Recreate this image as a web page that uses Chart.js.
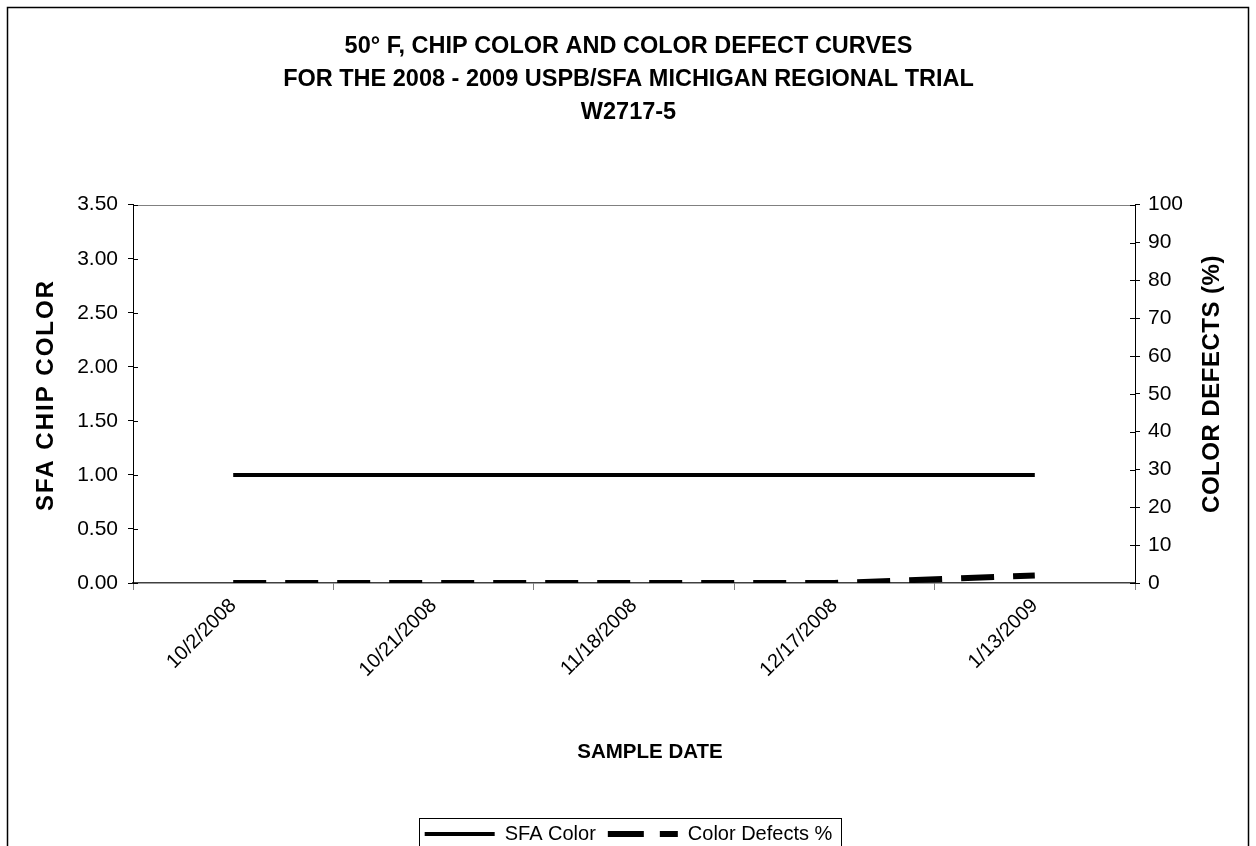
<!DOCTYPE html>
<html>
<head>
<meta charset="utf-8">
<script src="https://cdn.jsdelivr.net/npm/chart.js@4/dist/chart.umd.min.js"></script>
<style>
  html, body { margin: 0; padding: 0; background: #fff; }
  #grafico { display: block; }
</style>
</head>
<body>
<canvas id="grafico" width="1256" height="846"></canvas>
<script>
// --- DADOS ---
const categorias = ['10/2/2008', '10/21/2008', '11/18/2008', '12/17/2008', '1/13/2009'];
const sfaColor = [1.0, 1.0, 1.0, 1.0, 1.0];
const colorDefects = [0, 0, 0, 0, 2];
const ticksEsquerda = [0, 0.5, 1, 1.5, 2, 2.5, 3, 3.5];
const ticksDireita = [0, 10, 20, 30, 40, 50, 60, 70, 80, 90, 100];
const titulo = [
    '50° F, CHIP COLOR AND COLOR DEFECT CURVES',
    'FOR THE 2008 - 2009 USPB/SFA MICHIGAN REGIONAL TRIAL',
    'W2717-5'
];
const tituloX = 'SAMPLE DATE';
const tituloY = 'SFA CHIP COLOR';
const tituloY2 = 'COLOR DEFECTS (%)';

const FONTE = "'Liberation Sans', Arial, sans-serif";

// moldura externa, linha superior, marcas internas, títulos de eixo e caixa da legenda
const molduraPlugin = {
    id: 'moldura',
    beforeDraw(chart) {
        const ctx = chart.ctx;
        ctx.save();
        ctx.fillStyle = '#fff';
        ctx.fillRect(0, 0, chart.width, chart.height);
        ctx.strokeStyle = '#000';
        ctx.lineWidth = 1.5;
        ctx.strokeRect(7.5, 7.5, chart.width - 15, chart.height + 20);
        ctx.restore();
    },
    afterDraw(chart) {
        const ctx = chart.ctx;
        const area = chart.chartArea;
        ctx.save();
        // borda superior cinza
        ctx.strokeStyle = '#808080';
        ctx.lineWidth = 1;
        ctx.beginPath();
        ctx.moveTo(area.left, Math.round(area.top) + 0.5);
        ctx.lineTo(area.right, Math.round(area.top) + 0.5);
        ctx.stroke();
        // marcas cruzando os eixos y (parte interna)
        ctx.strokeStyle = '#000';
        ['y', 'y2'].forEach(id => {
            const scale = chart.scales[id];
            const x = id === 'y' ? area.left : area.right;
            const dir = id === 'y' ? 1 : -1;
            scale.ticks.forEach(t => {
                const py = Math.round(scale.getPixelForValue(t.value)) + 0.5;
                ctx.beginPath();
                ctx.moveTo(x, py);
                ctx.lineTo(x + dir * 5, py);
                ctx.stroke();
            });
        });
        // títulos dos eixos (direito lido de baixo para cima, como no Excel)
        ctx.fillStyle = '#000';
        ctx.textAlign = 'center';
        ctx.textBaseline = 'middle';
        ctx.font = `bold 20.5px ${FONTE}`;
        ctx.fillText(tituloX, 650, 752);
        ctx.font = `bold 24px ${FONTE}`;
        ctx.save();
        ctx.translate(46, 396);
        ctx.rotate(-Math.PI / 2);
        ctx.letterSpacing = '2px';
        ctx.fillText(tituloY, 1, 0);
        ctx.restore();
        ctx.save();
        ctx.translate(1212, 384);
        ctx.rotate(-Math.PI / 2);
        ctx.letterSpacing = '0.5px';
        ctx.fillText(tituloY2, 0, 0);
        ctx.restore();
        // caixa da legenda
        const legend = chart.legend;
        if (legend && legend.legendHitBoxes && legend.legendHitBoxes.length) {
            const boxes = legend.legendHitBoxes;
            const esq = Math.min(...boxes.map(b => b.left)) - 6;
            const dir = Math.max(...boxes.map(b => b.left + b.width)) + 8;
            ctx.strokeStyle = '#000';
            ctx.lineWidth = 1;
            ctx.strokeRect(Math.round(esq) + 0.5, 818.5, Math.round(dir - esq), 60);
        }
        ctx.restore();
    }
};

const ctx = document.getElementById('grafico').getContext('2d');
new Chart(ctx, {
    type: 'line',
    data: {
        labels: categorias,
        datasets: [{
            label: 'SFA Color',
            data: sfaColor,
            yAxisID: 'y',
            borderColor: '#000',
            backgroundColor: '#000',
            borderWidth: 4,
            pointRadius: 0,
            tension: 0
        }, {
            label: 'Color Defects %',
            data: colorDefects,
            yAxisID: 'y2',
            borderColor: '#000',
            backgroundColor: '#000',
            borderWidth: 6,
            borderDash: [33, 19],
            borderCapStyle: 'butt',
            pointRadius: 0,
            tension: 0
        }]
    },
    options: {
        responsive: false,
        animation: false,
        devicePixelRatio: 1,
        layout: { padding: { top: 20, left: 29, right: 28, bottom: -8 } },
        plugins: {
            title: {
                display: true,
                text: titulo,
                color: '#000',
                font: { family: FONTE, size: 23.5, weight: 'bold', lineHeight: 1.4 },
                padding: { top: 10, bottom: 76 }
            },
            legend: {
                position: 'bottom',
                labels: {
                    color: '#000',
                    font: { family: FONTE, size: 20 },
                    boxWidth: 70,
                    boxHeight: 0,
                    padding: 12
                }
            },
            tooltip: { enabled: false }
        },
        scales: {
            x: {
                offset: true,
                grid: { display: true, drawOnChartArea: false, offset: true, tickLength: 7, color: '#808080' },
                border: { color: '#404040', width: 1.5 },
                ticks: {
                    color: '#000',
                    font: { family: FONTE, size: 20 },
                    minRotation: 45,
                    maxRotation: 45,
                    padding: 4
                },
                title: { display: false },
                afterFit(scale) { scale.height = 229; }
            },
            y: {
                position: 'left',
                min: 0,
                max: 3.5,
                afterBuildTicks(scale) { scale.ticks = ticksEsquerda.map(v => ({ value: v })); },
                grid: { display: true, drawOnChartArea: false, tickLength: 5, color: '#000' },
                border: { color: '#000', width: 1 },
                ticks: {
                    color: '#000',
                    font: { family: FONTE, size: 21 },
                    padding: 10,
                    callback: v => Number(v).toFixed(2)
                },
                title: { display: false },
                afterFit(scale) { scale.width = 104; }
            },
            y2: {
                position: 'right',
                min: 0,
                max: 100,
                afterBuildTicks(scale) { scale.ticks = ticksDireita.map(v => ({ value: v })); },
                grid: { display: true, drawOnChartArea: false, tickLength: 5, color: '#000' },
                border: { color: '#000', width: 1 },
                ticks: {
                    color: '#000',
                    font: { family: FONTE, size: 21 },
                    padding: 8
                },
                title: { display: false },
                afterFit(scale) { scale.width = 93; }
            }
        }
    },
    plugins: [molduraPlugin]
});
</script>
</body>
</html>
